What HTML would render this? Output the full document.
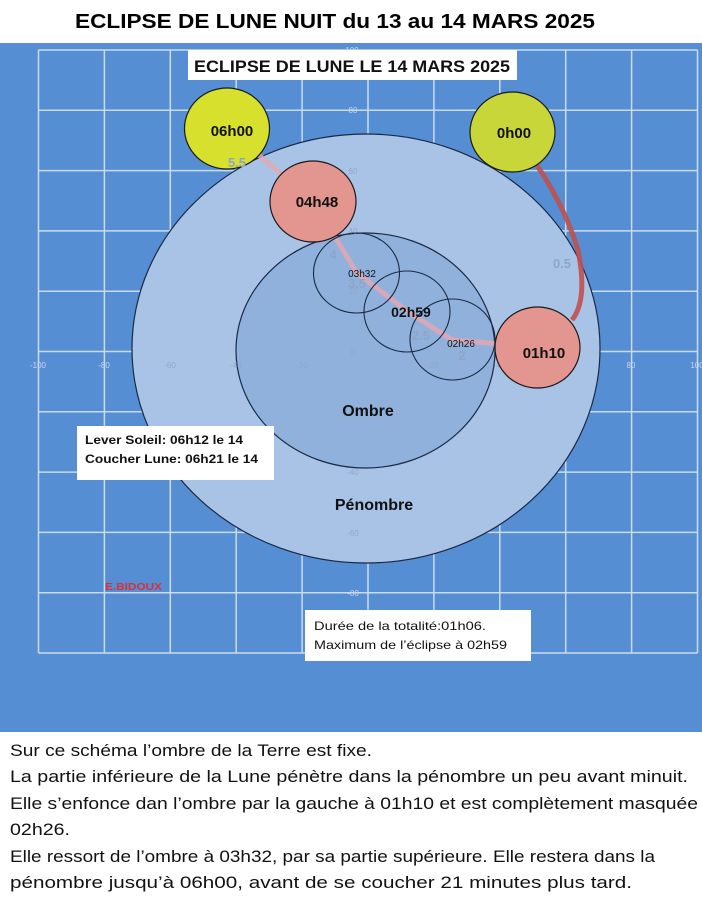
<!DOCTYPE html>
<html><head><meta charset="utf-8"><style>
html,body{margin:0;padding:0;background:#fff}
svg{display:block}
text{font-family:"Liberation Sans",sans-serif}
</style></head><body>
<svg width="702" height="900" viewBox="0 0 702 900" xmlns="http://www.w3.org/2000/svg">
<rect x="0" y="0" width="702" height="900" fill="#fff"/>
<text x="335" y="28" text-anchor="middle" font-size="20" font-weight="bold" textLength="520" lengthAdjust="spacingAndGlyphs">ECLIPSE DE LUNE  NUIT du 13 au 14 MARS 2025</text>
<rect x="0" y="43" width="702" height="689" fill="#568ed4"/>
<g stroke="#dfe9f6" stroke-width="1.5" opacity="0.85">
<line x1="38.5" y1="50" x2="38.5" y2="653"/><line x1="104.4" y1="50" x2="104.4" y2="653"/><line x1="170.3" y1="50" x2="170.3" y2="653"/><line x1="236.2" y1="50" x2="236.2" y2="653"/><line x1="302.1" y1="50" x2="302.1" y2="653"/><line x1="368" y1="50" x2="368" y2="653"/><line x1="433.9" y1="50" x2="433.9" y2="653"/><line x1="499.8" y1="50" x2="499.8" y2="653"/><line x1="565.7" y1="50" x2="565.7" y2="653"/><line x1="631.6" y1="50" x2="631.6" y2="653"/><line x1="697.5" y1="50" x2="697.5" y2="653"/>
<line x1="38.5" y1="50" x2="697.5" y2="50"/><line x1="38.5" y1="110.3" x2="697.5" y2="110.3"/><line x1="38.5" y1="170.6" x2="697.5" y2="170.6"/><line x1="38.5" y1="230.9" x2="697.5" y2="230.9"/><line x1="38.5" y1="291.2" x2="697.5" y2="291.2"/><line x1="38.5" y1="351.5" x2="697.5" y2="351.5"/><line x1="38.5" y1="411.8" x2="697.5" y2="411.8"/><line x1="38.5" y1="472.1" x2="697.5" y2="472.1"/><line x1="38.5" y1="532.4" x2="697.5" y2="532.4"/><line x1="38.5" y1="592.7" x2="697.5" y2="592.7"/><line x1="38.5" y1="653" x2="697.5" y2="653"/>
</g>
<g font-size="8" fill="#c9d6e8" text-anchor="middle">
<text x="38" y="368">-100</text><text x="104" y="368">-80</text><text x="631" y="368">80</text><text x="697" y="368">100</text>
<text x="352" y="53">100</text><text x="353" y="113">80</text><text x="353" y="596">-80</text>
</g>
<ellipse cx="366" cy="348.5" rx="234" ry="214.5" fill="#a8c3e6" stroke="#1a2a44" stroke-width="1.2"/>
<ellipse cx="365.5" cy="350.5" rx="129.5" ry="117.5" fill="#8fb1dc" stroke="#1a2a44" stroke-width="1.2"/>
<g font-size="8" fill="#90a8c8" text-anchor="middle">
<text x="302" y="368">-20</text><text x="434" y="368">20</text><text x="170" y="368">-60</text><text x="236" y="368">-40</text><text x="500" y="368">40</text><text x="353" y="174">60</text><text x="353" y="234">40</text><text x="353" y="294">20</text><text x="353" y="355">0</text><text x="353" y="415">-20</text><text x="353" y="475">-40</text><text x="353" y="536">-60</text>
</g>
<path d="M512 132 Q560 190 578 250 Q588 300 572 320" fill="none" stroke="#c0504d" stroke-width="5" opacity="0.9"/>
<path d="M512 132 L535 165" stroke="#f2b01e" stroke-width="5"/>
<path d="M537 347 L452 340 L407 311 L357 273 L313 201 L227 128" fill="none" stroke="#e6a8b0" stroke-width="5" opacity="0.8"/>
<path d="M227 128 L240 148" stroke="#f2b01e" stroke-width="5"/>
<ellipse cx="227" cy="128.5" rx="42.5" ry="40.5" fill="#d7e02c" stroke="#1a1a1a" stroke-width="1.2"/>
<ellipse cx="512.5" cy="132" rx="42.5" ry="40" fill="#c9d63a" stroke="#1a1a1a" stroke-width="1.2"/>
<ellipse cx="313" cy="201.5" rx="43" ry="40.5" fill="#e39590" stroke="#1a1a1a" stroke-width="1.2"/>
<ellipse cx="537.5" cy="347.5" rx="42.5" ry="40.5" fill="#e39590" stroke="#1a1a1a" stroke-width="1.2"/>
<g fill="none" stroke="#1a2a44" stroke-width="1.1">
<ellipse cx="356.5" cy="273" rx="43" ry="40"/>
<ellipse cx="407" cy="311.5" rx="43" ry="40.5"/>
<ellipse cx="452.5" cy="339.5" rx="42.5" ry="40.5"/>
</g>
<g font-size="13" font-weight="bold" fill="#8ea6c6" text-anchor="middle">
<text x="562" y="268">0.5</text><text x="462" y="360">2</text><text x="421" y="340">2.5</text><text x="357" y="288">3.5</text><text x="333" y="259">4</text><text x="237" y="167">5.5</text>
</g>
<g font-weight="bold" fill="#111" text-anchor="middle">
<text x="232" y="136" font-size="15">06h00</text>
<text x="514" y="138" font-size="15">0h00</text>
<text x="317" y="207" font-size="15">04h48</text>
<text x="544" y="358" font-size="15">01h10</text>
<text x="362" y="277" font-size="10" font-weight="normal">03h32</text>
<text x="411" y="317" font-size="14">02h59</text>
<text x="461" y="347" font-size="10" font-weight="normal">02h26</text>
<text x="368" y="416" font-size="16">Ombre</text>
<text x="374" y="510" font-size="16">Pénombre</text>
</g>
<rect x="188" y="50" width="329" height="30" fill="#fff"/>
<text x="352" y="72" font-size="17" font-weight="bold" text-anchor="middle" fill="#111" textLength="316" lengthAdjust="spacingAndGlyphs">ECLIPSE DE LUNE LE 14 MARS 2025</text>
<rect x="77" y="426" width="197" height="54" fill="#fff"/>
<text x="85" y="444" font-size="12" font-weight="bold" fill="#111" textLength="158" lengthAdjust="spacingAndGlyphs">Lever Soleil: 06h12 le 14</text>
<text x="85" y="463" font-size="12" font-weight="bold" fill="#111" textLength="173" lengthAdjust="spacingAndGlyphs">Coucher Lune: 06h21 le 14</text>
<rect x="305" y="610" width="226" height="51" fill="#fff"/>
<text x="314" y="630" font-size="12" fill="#111" textLength="172" lengthAdjust="spacingAndGlyphs">Durée de la totalité:01h06.</text>
<text x="314" y="649" font-size="12" fill="#111" textLength="193" lengthAdjust="spacingAndGlyphs">Maximum de l’éclipse à 02h59</text>
<text x="105" y="590" font-size="10" font-weight="bold" fill="#d9303a" textLength="57" lengthAdjust="spacingAndGlyphs">E.BIDOUX</text>
<g font-size="17" fill="#111">
<text x="10" y="756" textLength="362" lengthAdjust="spacingAndGlyphs">Sur ce schéma l’ombre de la Terre est fixe.</text>
<text x="10" y="782" textLength="678" lengthAdjust="spacingAndGlyphs">La partie inférieure de la Lune pénètre dans la pénombre un peu avant minuit.</text>
<text x="10" y="809" textLength="688" lengthAdjust="spacingAndGlyphs">Elle s’enfonce dan l’ombre par la gauche à 01h10 et est complètement masquée</text>
<text x="10" y="835" textLength="60" lengthAdjust="spacingAndGlyphs">02h26.</text>
<text x="10" y="862" textLength="645" lengthAdjust="spacingAndGlyphs">Elle ressort de l’ombre à 03h32, par sa partie supérieure. Elle restera dans la</text>
<text x="10" y="888" textLength="622" lengthAdjust="spacingAndGlyphs">pénombre jusqu’à 06h00, avant de se coucher 21 minutes plus tard.</text>
</g>
</svg>
</body></html>
